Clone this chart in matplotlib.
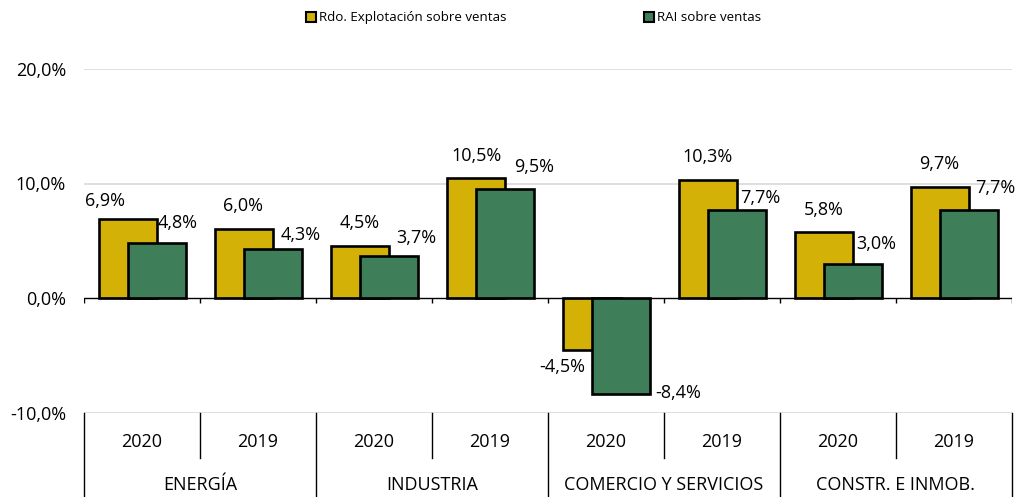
import matplotlib
matplotlib.use("Agg")
import matplotlib.pyplot as plt
from matplotlib.patches import Patch
import matplotlib.transforms as mtransforms

# ---- data ----
groups = ["ENERGÍA", "INDUSTRIA", "COMERCIO Y SERVICIOS", "CONSTR. E INMOB."]
years = ["2020", "2019", "2020", "2019", "2020", "2019", "2020", "2019"]
series_names = ["Rdo. Explotación sobre ventas", "RAI sobre ventas"]
rdo_explotacion = [6.9, 6.0, 4.5, 10.5, -4.5, 10.3, 5.8, 9.7]
rai = [4.8, 4.3, 3.7, 9.5, -8.4, 7.7, 3.0, 7.7]
yticks = [-10, 0, 10, 20]

# label offsets (pixels) relative to bar end
y_dx = [-22, 0, 0, 1, -29, 0, 0, 0]
y_dy = [18, 23, 23, 22, -17, 23, 22, 23]
g_dx = [21, 28, 28, 30, 58, 24, 24, 27]
g_dy = [20, 14, 18, 22, 1, 12, 20, 22]

YELLOW = "#D4B106"
GREEN = "#3E7E58"
FONT = "Open Sans"

plt.rcParams["font.family"] = [FONT, "DejaVu Sans"]

fig = plt.figure(figsize=(10.19, 4.97), dpi=100)
ax = fig.add_axes([84 / 1019, (497 - 412.5) / 497, (1012 - 84) / 1019, (412.5 - 69) / 497])

n = len(years)
x = list(range(n))
w = 0.5
off = 0.125
FS = 13

ax.bar([i - off for i in x], rdo_explotacion, width=w, color=YELLOW,
       edgecolor="black", linewidth=1.9, zorder=3, label=series_names[0])
ax.bar([i + off for i in x], rai, width=w, color=GREEN,
       edgecolor="black", linewidth=1.9, zorder=4, label=series_names[1])

def fmt(v):
    return f"{v:.1f}".replace(".", ",") + "%"

for i in x:
    ax.annotate(fmt(rdo_explotacion[i]), xy=(i - off, rdo_explotacion[i]),
                xytext=(y_dx[i], y_dy[i]), textcoords="offset pixels",
                ha="center", va="center", fontsize=FS, zorder=6)
    ax.annotate(fmt(rai[i]), xy=(i + off, rai[i]),
                xytext=(g_dx[i], g_dy[i]), textcoords="offset pixels",
                ha="center", va="center", fontsize=FS, zorder=6)

ax.set_xlim(-0.5, n - 0.5)
ax.set_ylim(-10, 20)
ax.set_yticks(yticks)
ax.set_yticklabels([f"{t:.1f}".replace(".", ",") + "%" for t in yticks], fontsize=FS)
ax.tick_params(axis="y", length=0, pad=13)
ax.set_xticks([])
for s in ax.spines.values():
    s.set_visible(False)

# gridlines
for t in [-10, 10, 20]:
    ax.axhline(t, color="#d9d9d9", lw=1.2, zorder=1)
ax.axhline(0, color="black", lw=1.0, zorder=5)
bounds = [i - 0.5 for i in range(n + 1)]
ax.vlines(bounds, -0.45, 0, color="black", lw=1.0, zorder=5)

# category table below the axis
trans = mtransforms.blended_transform_factory(ax.transData, ax.transAxes)
for k, b in enumerate(bounds):
    if k % 2 == 0:
        y0 = -0.26
    else:
        y0 = -0.132
    ax.plot([b, b], [0, y0], transform=trans, color="black", lw=1.0, clip_on=False)
for i in x:
    ax.text(i, -0.086, years[i], transform=trans, ha="center", va="center", fontsize=FS)
for g, name in enumerate(groups):
    ax.text(2 * g + 0.5, -0.212, name, transform=trans, ha="center", va="center", fontsize=FS)

# legend
handles = [Patch(facecolor=YELLOW, edgecolor="black", linewidth=1.5),
           Patch(facecolor=GREEN, edgecolor="black", linewidth=1.5)]
fig.legend(handles, series_names, loc="center", bbox_to_anchor=(0.5236, 0.964),
           bbox_transform=fig.transFigure, ncol=2, frameon=False, fontsize=9.6,
           handlelength=0.75, handleheight=0.75, handletextpad=0.2, columnspacing=10.3)

fig.savefig("out.png", dpi=100)
